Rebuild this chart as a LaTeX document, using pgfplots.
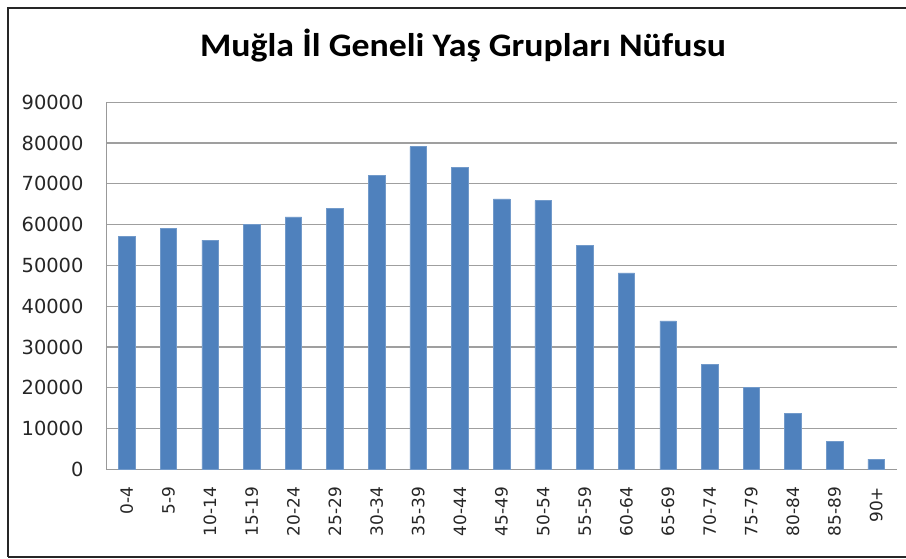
\documentclass[border=0pt]{standalone}
\usepackage{pgfplots}
\pgfplotsset{compat=1.18}
\usepackage{fontspec}
\setmainfont{DejaVu Sans}
\newfontfamily\titlefont{Carlito}
\definecolor{barblue}{HTML}{4F81BD}
\begin{document}
\begin{tikzpicture}
\useasboundingbox (0bp,0bp) rectangle (906bp,559bp);
\draw[line width=2.5bp, black!85] (8bp,2bp) -- (8bp,551bp) -- (906bp,551bp);
\draw[line width=2.5bp, black!85] (8bp,2bp) -- (906bp,2bp);
\node[font=\titlefont\bfseries\fontsize{33}{38}\selectfont] at (463bp,513bp) {\scalebox{1.09}[1]{Muğla İl Geneli Yaş Grupları Nüfusu}};
\begin{axis}[
  at={(106bp,89.7bp)}, anchor=south west,
  scale only axis, width=791bp, height=367bp,
  ymin=0, ymax=90000, ytick={0,10000,...,90000},
  xmin=-0.5, xmax=18.5, xtick={0,...,18},
  xticklabels={0-4,5-9,10-14,15-19,20-24,25-29,30-34,35-39,40-44,45-49,50-54,55-59,60-64,65-69,70-74,75-79,80-84,85-89,90+},
  ybar, bar width=16.5bp,
  ymajorgrids, grid style={draw=gray!75, line width=1.2bp},
  axis x line*=bottom, axis y line*=left,
  axis line style={draw=gray!80, line width=1bp},
  major tick length=0pt,
  /pgf/number format/assume math mode=true,
  /pgf/number format/1000 sep={},
  scaled y ticks=false,
  yticklabel style={font=\fontsize{19.5}{22}\selectfont, text=black!85},
  yticklabel shift={19bp},
  xticklabel style={font=\fontsize{17}{20}\selectfont, rotate=90, anchor=east, text=black!85},
  xticklabel shift={14bp},
]
\addplot[fill=barblue, draw=barblue!80!white, line width=0.5bp] coordinates {
(0,57200) (1,59100) (2,56200) (3,60100) (4,61900) (5,64000) (6,72000) (7,79100) (8,74000)
(9,66300) (10,65900) (11,54900) (12,48200) (13,36400) (14,25700) (15,20000) (16,13800) (17,6800) (18,2500)
};
\end{axis}
\end{tikzpicture}
\end{document}
